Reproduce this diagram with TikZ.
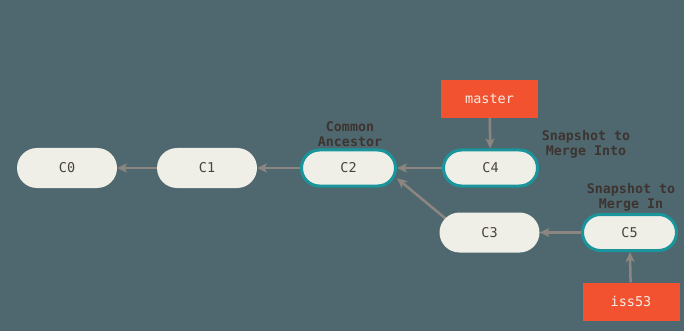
\documentclass[tikz,border=0pt]{standalone}
\usepackage{fontspec}
\setmonofont{DejaVu Sans Mono}
\usetikzlibrary{arrows.meta,calc}
\pgfdeclarelayer{back}
\pgfdeclarelayer{conn}
\pgfsetlayers{back,conn,main}
\definecolor{bgslate}{HTML}{4F6870}
\definecolor{nodefill}{HTML}{F0EFE7}
\definecolor{tealline}{HTML}{1A959B}
\definecolor{gitorange}{HTML}{F25230}
\definecolor{arrowgrey}{HTML}{8D8580}
\definecolor{nodetxt}{HTML}{4A423E}
\definecolor{lbltxt}{HTML}{3D3430}
\definecolor{branchtxt}{HTML}{F5EDE6}
\tikzset{
  commit/.style={rectangle, rounded corners=20pt, minimum width=100pt, minimum height=40pt,
    fill=nodefill, text=nodetxt, inner sep=0pt, outer sep=0pt,
    font=\ttfamily\fontsize{13.5}{15}\selectfont},
  keycommit/.style={commit, draw=tealline, line width=3pt, rounded corners=18pt,
    minimum width=94pt, minimum height=36pt, outer sep=1.5pt},
  branch/.style={rectangle, fill=gitorange, text=branchtxt, minimum width=97pt, minimum height=38pt,
    inner sep=0pt, font=\ttfamily\fontsize{13.5}{15}\selectfont},
  lbl/.style={text=lbltxt, align=center, inner sep=0pt,
    font=\ttfamily\bfseries\fontsize{13.3}{15}\selectfont},
  arr/.style={draw=arrowgrey, line width=2.5pt, -{Stealth[length=10pt,width=9pt,inset=2.5pt]}}
}
\begin{document}
\begin{tikzpicture}[x=1pt,y=-1pt]
\begin{pgfonlayer}{back}
\fill[bgslate] (0,0) rectangle (684,331);
\end{pgfonlayer}
\useasboundingbox (0,0) rectangle (684,331);

\node[commit] (c0) at (67,168) {C0};
\node[commit] (c1) at (207,168) {C1};
\node[keycommit] (c2) at (348.5,168) {C2};
\node[keycommit] (c4) at (490.5,168) {C4};
\node[commit] (c3) at (489.5,232.5) {C3};
\node[keycommit] (c5) at (629.5,232.5) {C5};
\node[branch] (master) at (489.5,99) {master};
\node[branch] (iss53) at (631,301.5) {iss53};

\node[lbl] (lca) at (350,134.5) {Common\\Ancestor};
\node[lbl] (linto) at (586,144.5) {Snapshot to\\Merge Into};
\node[lbl] (lin) at (631,197.5) {Snapshot to\\Merge In};

\begin{pgfonlayer}{conn}
\draw[arr] (c1) -- (c0);
\draw[arr] (c2) -- (c1);
\draw[arr] (c4) -- (c2);
\draw[arr] (c5) -- (c3);
\draw[arr] ($(c3.center)+(-44,-14)$) -- (c2.-12);
\draw[arr] (master) -- (c4);
\draw[arr] (iss53) -- (c5);
\end{pgfonlayer}
\end{tikzpicture}
\end{document}
